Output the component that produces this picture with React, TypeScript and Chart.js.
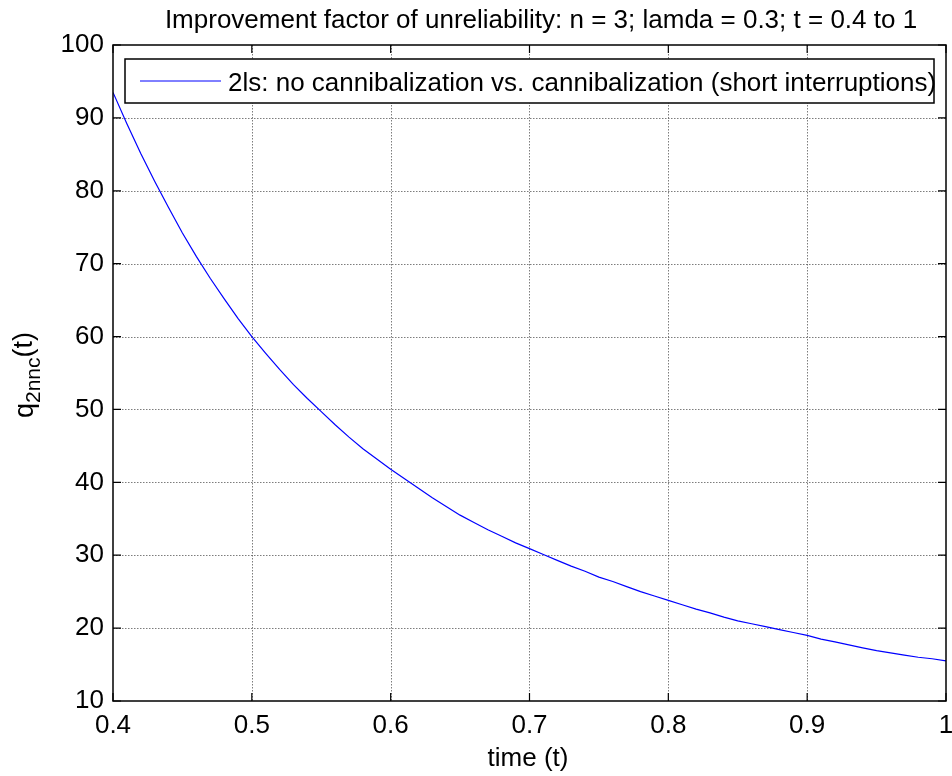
import React, { useEffect, useRef } from "react";
import { Chart, registerables } from "chart.js";
Chart.register(...registerables);

const tValues = [
  0.40, 0.41, 0.42, 0.43, 0.44, 0.45, 0.46, 0.47, 0.48, 0.49,
  0.50, 0.51, 0.52, 0.53, 0.54, 0.55, 0.56, 0.57, 0.58, 0.59,
  0.60, 0.61, 0.62, 0.63, 0.64, 0.65, 0.66, 0.67, 0.68, 0.69,
  0.70, 0.71, 0.72, 0.73, 0.74, 0.75, 0.76, 0.77, 0.78, 0.79,
  0.80, 0.81, 0.82, 0.83, 0.84, 0.85, 0.86, 0.87, 0.88, 0.89,
  0.90, 0.91, 0.92, 0.93, 0.94, 0.95, 0.96, 0.97, 0.98, 0.99, 1.00,
];
const qValues = [
  93.5, 89.2, 85.1, 81.3, 77.7, 74.2, 71.0, 68.0, 65.2, 62.5,
  60.0, 57.7, 55.5, 53.4, 51.5, 49.7, 47.9, 46.2, 44.6, 43.2,
  41.8, 40.5, 39.2, 37.9, 36.7, 35.5, 34.5, 33.5, 32.6, 31.7,
  30.9, 30.1, 29.3, 28.5, 27.8, 27.0, 26.4, 25.7, 25.0, 24.4,
  23.8, 23.2, 22.6, 22.1, 21.5, 21.0, 20.6, 20.2, 19.8, 19.4,
  19.0, 18.5, 18.1, 17.7, 17.3, 16.9, 16.6, 16.3, 16.0, 15.8, 15.5,
];
const xTicks = [0.4, 0.5, 0.6, 0.7, 0.8, 0.9, 1.0];
const yTicks = [10, 20, 30, 40, 50, 60, 70, 80, 90, 100];
const titleText = "Improvement factor of unreliability: n = 3; lamda = 0.3; t = 0.4 to 1";
const legendLabel = "2ls: no cannibalization vs. cannibalization (short interruptions)";
const xLabel = "time (t)";
const yLabelMain = "q";
const yLabelSub = "2nnc";
const yLabelTail = "(t)";

const FONT = "'Liberation Sans', Arial, sans-serif";

const decorPlugin = {
  id: "decor",
  beforeDatasetsDraw(chart: any) {
    const { ctx, chartArea: a, scales } = chart;
    ctx.save();
    ctx.strokeStyle = "rgba(70,70,70,0.7)";
    ctx.lineWidth = 1;
    ctx.setLineDash([1.5, 1.5]);
    for (const v of xTicks) {
      const x = Math.round(scales.x.getPixelForValue(v)) + 0.5;
      if (x < a.left + 2 || x > a.right - 2) continue;
      ctx.beginPath();
      ctx.moveTo(x, a.top);
      ctx.lineTo(x, a.bottom);
      ctx.stroke();
    }
    for (const v of yTicks) {
      const y = Math.round(scales.y.getPixelForValue(v)) + 0.5;
      if (y < a.top + 2 || y > a.bottom - 2) continue;
      ctx.beginPath();
      ctx.moveTo(a.left, y);
      ctx.lineTo(a.right, y);
      ctx.stroke();
    }
    ctx.restore();
  },
  afterDraw(chart: any) {
    const { ctx, chartArea: a, scales } = chart;
    ctx.save();
    ctx.setLineDash([]);
    ctx.strokeStyle = "#000";
    ctx.lineWidth = 1.5;
    ctx.strokeRect(a.left, a.top, a.right - a.left, a.bottom - a.top);
    const tl = 8;
    ctx.lineWidth = 1.2;
    for (const v of xTicks) {
      const x = scales.x.getPixelForValue(v);
      ctx.beginPath();
      ctx.moveTo(x, a.bottom);
      ctx.lineTo(x, a.bottom - tl);
      ctx.moveTo(x, a.top);
      ctx.lineTo(x, a.top + tl);
      ctx.stroke();
    }
    for (const v of yTicks) {
      const y = scales.y.getPixelForValue(v);
      ctx.beginPath();
      ctx.moveTo(a.left, y);
      ctx.lineTo(a.left + tl, y);
      ctx.moveTo(a.right, y);
      ctx.lineTo(a.right - tl, y);
      ctx.stroke();
    }
    // title
    ctx.fillStyle = "#000";
    ctx.font = `26px ${FONT}`;
    ctx.textAlign = "center";
    ctx.textBaseline = "alphabetic";
    ctx.fillText(titleText, 541, 28);
    // x label
    ctx.fillText(xLabel, 528, 766);
    // y label rotated
    ctx.save();
    ctx.translate(35, 375);
    ctx.rotate(-Math.PI / 2);
    ctx.textAlign = "left";
    ctx.font = `27px ${FONT}`;
    const wMain = ctx.measureText(yLabelMain).width;
    ctx.font = `21px ${FONT}`;
    const wSub = ctx.measureText(yLabelSub).width;
    ctx.font = `27px ${FONT}`;
    const wTail = ctx.measureText(yLabelTail).width;
    let sx = -(wMain + wSub + wTail) / 2;
    ctx.fillText(yLabelMain, sx, -2);
    sx += wMain;
    ctx.font = `21px ${FONT}`;
    ctx.fillText(yLabelSub, sx, 5);
    sx += wSub;
    ctx.font = `27px ${FONT}`;
    ctx.fillText(yLabelTail, sx, -3);
    ctx.restore();
    // legend
    const lx = 125, ly = 59, lw = 809, lh = 44;
    ctx.fillStyle = "#fff";
    ctx.fillRect(lx, ly, lw, lh);
    ctx.strokeStyle = "#000";
    ctx.lineWidth = 1.5;
    ctx.strokeRect(lx, ly, lw, lh);
    ctx.strokeStyle = "#0000ff";
    ctx.lineWidth = 1;
    ctx.beginPath();
    ctx.moveTo(140, 81);
    ctx.lineTo(221, 81);
    ctx.stroke();
    ctx.fillStyle = "#000";
    ctx.font = `26px ${FONT}`;
    ctx.textAlign = "left";
    ctx.fillText(legendLabel, 228, 91);
    ctx.restore();
  },
};

export default function App() {
  const ref = useRef<HTMLCanvasElement | null>(null);
  useEffect(() => {
    if (!ref.current) return;
    const chart = new Chart(ref.current, {
      type: "line",
      data: {
        datasets: [
          {
            label: legendLabel,
            data: tValues.map((t, i) => ({ x: t, y: qValues[i] })),
            borderColor: "#0000ff",
            borderWidth: 1.2,
            pointRadius: 0,
            tension: 0,
            fill: false,
          },
        ],
      },
      options: {
        animation: false,
        responsive: false,
        devicePixelRatio: 1,
        layout: { padding: { top: 45, right: 6, left: 0, bottom: 0 } },
        plugins: {
          legend: { display: false },
          title: { display: false },
          tooltip: { enabled: false },
        },
        scales: {
          x: {
            type: "linear",
            min: 0.4,
            max: 1,
            afterBuildTicks: (axis: any) => {
              axis.ticks = xTicks.map((v) => ({ value: v }));
            },
            afterFit: (s: any) => {
              s.height = 75;
              s.paddingLeft = 0;
              s.paddingRight = 0;
            },
            grid: { display: false, drawTicks: false },
            border: { display: false },
            ticks: {
              padding: 9,
              color: "#000",
              font: { family: FONT, size: 26 },
              maxRotation: 0,
              autoSkip: false,
              callback: (v: any) => (Number(v) === 1 ? "1" : Number(v).toFixed(1)),
            },
          },
          y: {
            type: "linear",
            min: 10,
            max: 100,
            afterBuildTicks: (axis: any) => {
              axis.ticks = yTicks.map((v) => ({ value: v }));
            },
            afterFit: (s: any) => {
              s.width = 113;
              s.paddingTop = 0;
              s.paddingBottom = 0;
            },
            grid: { display: false, drawTicks: false },
            border: { display: false },
            ticks: {
              padding: 9,
              color: "#000",
              font: { family: FONT, size: 26 },
              autoSkip: false,
              callback: (v: any) => String(v),
            },
          },
        },
      },
      plugins: [decorPlugin],
    });
    return () => chart.destroy();
  }, []);
  return (
    <div style={{ position: "absolute", left: 0, top: 0, width: 952, height: 776, background: "#fff" }}>
      <canvas ref={ref} width={952} height={776} style={{ display: "block", width: 952, height: 776 }} />
    </div>
  );
}
